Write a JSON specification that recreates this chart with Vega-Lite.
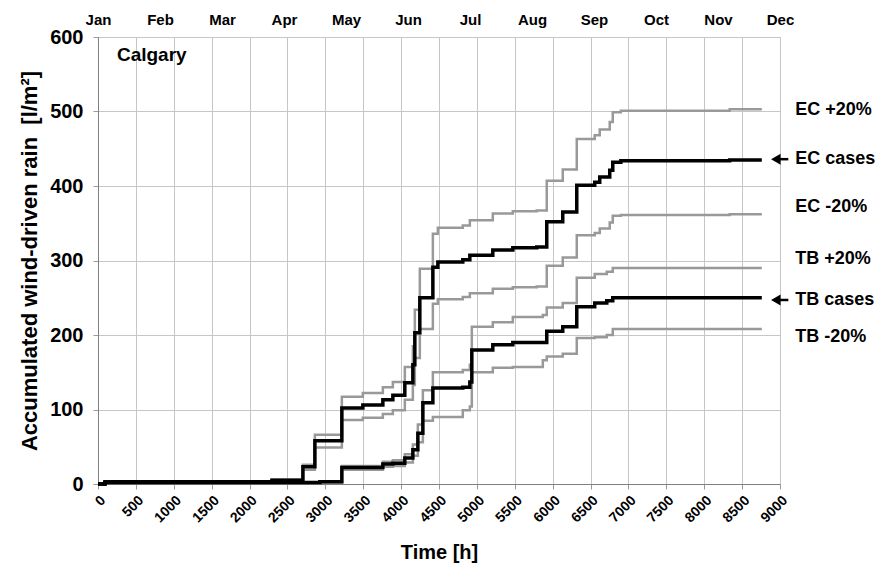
{
  "$schema": "https://vega.github.io/schema/vega-lite/v6.json",
  "width": 682,
  "height": 447,
  "autosize": {"type": "none"},
  "padding": {"left": 98, "top": 37, "right": 100, "bottom": 85},
  "background": "white",
  "config": {
    "font": "Liberation Sans",
    "view": {"stroke": "#9a9a9a"},
    "axis": {"labelColor": "#000", "titleColor": "#000", "gridColor": "#c6c6c6", "tickColor": "#9a9a9a", "domainColor": "#808080"}
  },
  "datasets": {
    "rain": [
      {"s": "EC cases", "k": "case", "t": 0, "v": 0}, {"s": "EC cases", "k": "case", "t": 92, "v": 3}, {"s": "EC cases", "k": "case", "t": 2295, "v": 5}, {"s": "EC cases", "k": "case", "t": 2704, "v": 23}, {"s": "EC cases", "k": "case", "t": 2862, "v": 58}, {"s": "EC cases", "k": "case", "t": 3218, "v": 102}, {"s": "EC cases", "k": "case", "t": 3495, "v": 106}, {"s": "EC cases", "k": "case", "t": 3759, "v": 113}, {"s": "EC cases", "k": "case", "t": 3891, "v": 119}, {"s": "EC cases", "k": "case", "t": 4049, "v": 136}, {"s": "EC cases", "k": "case", "t": 4155, "v": 160}, {"s": "EC cases", "k": "case", "t": 4181, "v": 203}, {"s": "EC cases", "k": "case", "t": 4247, "v": 250}, {"s": "EC cases", "k": "case", "t": 4419, "v": 291}, {"s": "EC cases", "k": "case", "t": 4485, "v": 298}, {"s": "EC cases", "k": "case", "t": 4814, "v": 301}, {"s": "EC cases", "k": "case", "t": 4907, "v": 307}, {"s": "EC cases", "k": "case", "t": 5210, "v": 314}, {"s": "EC cases", "k": "case", "t": 5474, "v": 317}, {"s": "EC cases", "k": "case", "t": 5790, "v": 318}, {"s": "EC cases", "k": "case", "t": 5922, "v": 352}, {"s": "EC cases", "k": "case", "t": 6133, "v": 365}, {"s": "EC cases", "k": "case", "t": 6318, "v": 401}, {"s": "EC cases", "k": "case", "t": 6555, "v": 405}, {"s": "EC cases", "k": "case", "t": 6621, "v": 412}, {"s": "EC cases", "k": "case", "t": 6753, "v": 421}, {"s": "EC cases", "k": "case", "t": 6793, "v": 432}, {"s": "EC cases", "k": "case", "t": 6900, "v": 434}, {"s": "EC cases", "k": "case", "t": 8336, "v": 435}, {"s": "EC cases", "k": "case", "t": 8760, "v": 435},
      {"s": "EC +20%", "k": "var", "t": 0, "v": 0}, {"s": "EC +20%", "k": "var", "t": 92, "v": 3}, {"s": "EC +20%", "k": "var", "t": 2295, "v": 6}, {"s": "EC +20%", "k": "var", "t": 2704, "v": 26}, {"s": "EC +20%", "k": "var", "t": 2862, "v": 66}, {"s": "EC +20%", "k": "var", "t": 3218, "v": 117}, {"s": "EC +20%", "k": "var", "t": 3495, "v": 122}, {"s": "EC +20%", "k": "var", "t": 3759, "v": 130}, {"s": "EC +20%", "k": "var", "t": 3891, "v": 137}, {"s": "EC +20%", "k": "var", "t": 4049, "v": 157}, {"s": "EC +20%", "k": "var", "t": 4155, "v": 185}, {"s": "EC +20%", "k": "var", "t": 4181, "v": 234}, {"s": "EC +20%", "k": "var", "t": 4247, "v": 289}, {"s": "EC +20%", "k": "var", "t": 4419, "v": 336}, {"s": "EC +20%", "k": "var", "t": 4485, "v": 344}, {"s": "EC +20%", "k": "var", "t": 4814, "v": 347}, {"s": "EC +20%", "k": "var", "t": 4907, "v": 354}, {"s": "EC +20%", "k": "var", "t": 5210, "v": 363}, {"s": "EC +20%", "k": "var", "t": 5474, "v": 366}, {"s": "EC +20%", "k": "var", "t": 5790, "v": 367}, {"s": "EC +20%", "k": "var", "t": 5922, "v": 407}, {"s": "EC +20%", "k": "var", "t": 6133, "v": 422}, {"s": "EC +20%", "k": "var", "t": 6318, "v": 463}, {"s": "EC +20%", "k": "var", "t": 6555, "v": 468}, {"s": "EC +20%", "k": "var", "t": 6621, "v": 476}, {"s": "EC +20%", "k": "var", "t": 6753, "v": 486}, {"s": "EC +20%", "k": "var", "t": 6793, "v": 499}, {"s": "EC +20%", "k": "var", "t": 6900, "v": 501}, {"s": "EC +20%", "k": "var", "t": 8336, "v": 503}, {"s": "EC +20%", "k": "var", "t": 8760, "v": 503},
      {"s": "EC -20%", "k": "var", "t": 0, "v": 0}, {"s": "EC -20%", "k": "var", "t": 92, "v": 2}, {"s": "EC -20%", "k": "var", "t": 2295, "v": 4}, {"s": "EC -20%", "k": "var", "t": 2704, "v": 19}, {"s": "EC -20%", "k": "var", "t": 2862, "v": 49}, {"s": "EC -20%", "k": "var", "t": 3218, "v": 86}, {"s": "EC -20%", "k": "var", "t": 3495, "v": 89}, {"s": "EC -20%", "k": "var", "t": 3759, "v": 94}, {"s": "EC -20%", "k": "var", "t": 3891, "v": 99}, {"s": "EC -20%", "k": "var", "t": 4049, "v": 113}, {"s": "EC -20%", "k": "var", "t": 4155, "v": 133}, {"s": "EC -20%", "k": "var", "t": 4181, "v": 169}, {"s": "EC -20%", "k": "var", "t": 4247, "v": 208}, {"s": "EC -20%", "k": "var", "t": 4419, "v": 242}, {"s": "EC -20%", "k": "var", "t": 4485, "v": 248}, {"s": "EC -20%", "k": "var", "t": 4814, "v": 251}, {"s": "EC -20%", "k": "var", "t": 4907, "v": 256}, {"s": "EC -20%", "k": "var", "t": 5210, "v": 262}, {"s": "EC -20%", "k": "var", "t": 5474, "v": 264}, {"s": "EC -20%", "k": "var", "t": 5790, "v": 265}, {"s": "EC -20%", "k": "var", "t": 5922, "v": 293}, {"s": "EC -20%", "k": "var", "t": 6133, "v": 304}, {"s": "EC -20%", "k": "var", "t": 6318, "v": 334}, {"s": "EC -20%", "k": "var", "t": 6555, "v": 337}, {"s": "EC -20%", "k": "var", "t": 6621, "v": 343}, {"s": "EC -20%", "k": "var", "t": 6753, "v": 351}, {"s": "EC -20%", "k": "var", "t": 6793, "v": 360}, {"s": "EC -20%", "k": "var", "t": 6900, "v": 361}, {"s": "EC -20%", "k": "var", "t": 8336, "v": 362}, {"s": "EC -20%", "k": "var", "t": 8760, "v": 362},
      {"s": "TB cases", "k": "case", "t": 0, "v": 0}, {"s": "TB cases", "k": "case", "t": 92, "v": 2}, {"s": "TB cases", "k": "case", "t": 2928, "v": 3}, {"s": "TB cases", "k": "case", "t": 3218, "v": 22}, {"s": "TB cases", "k": "case", "t": 3759, "v": 27}, {"s": "TB cases", "k": "case", "t": 3891, "v": 28}, {"s": "TB cases", "k": "case", "t": 4049, "v": 35}, {"s": "TB cases", "k": "case", "t": 4155, "v": 46}, {"s": "TB cases", "k": "case", "t": 4221, "v": 68}, {"s": "TB cases", "k": "case", "t": 4287, "v": 109}, {"s": "TB cases", "k": "case", "t": 4419, "v": 129}, {"s": "TB cases", "k": "case", "t": 4814, "v": 130}, {"s": "TB cases", "k": "case", "t": 4907, "v": 137}, {"s": "TB cases", "k": "case", "t": 4933, "v": 180}, {"s": "TB cases", "k": "case", "t": 5210, "v": 187}, {"s": "TB cases", "k": "case", "t": 5474, "v": 190}, {"s": "TB cases", "k": "case", "t": 5922, "v": 205}, {"s": "TB cases", "k": "case", "t": 6133, "v": 211}, {"s": "TB cases", "k": "case", "t": 6318, "v": 238}, {"s": "TB cases", "k": "case", "t": 6555, "v": 243}, {"s": "TB cases", "k": "case", "t": 6714, "v": 246}, {"s": "TB cases", "k": "case", "t": 6793, "v": 250}, {"s": "TB cases", "k": "case", "t": 8760, "v": 250},
      {"s": "TB +20%", "k": "var", "t": 0, "v": 0}, {"s": "TB +20%", "k": "var", "t": 92, "v": 2}, {"s": "TB +20%", "k": "var", "t": 2928, "v": 3}, {"s": "TB +20%", "k": "var", "t": 3218, "v": 24}, {"s": "TB +20%", "k": "var", "t": 3759, "v": 30}, {"s": "TB +20%", "k": "var", "t": 3891, "v": 32}, {"s": "TB +20%", "k": "var", "t": 4049, "v": 40}, {"s": "TB +20%", "k": "var", "t": 4155, "v": 53}, {"s": "TB +20%", "k": "var", "t": 4221, "v": 80}, {"s": "TB +20%", "k": "var", "t": 4287, "v": 126}, {"s": "TB +20%", "k": "var", "t": 4419, "v": 150}, {"s": "TB +20%", "k": "var", "t": 4814, "v": 153}, {"s": "TB +20%", "k": "var", "t": 4907, "v": 160}, {"s": "TB +20%", "k": "var", "t": 4933, "v": 211}, {"s": "TB +20%", "k": "var", "t": 5210, "v": 217}, {"s": "TB +20%", "k": "var", "t": 5474, "v": 224}, {"s": "TB +20%", "k": "var", "t": 5870, "v": 227}, {"s": "TB +20%", "k": "var", "t": 5922, "v": 237}, {"s": "TB +20%", "k": "var", "t": 6133, "v": 243}, {"s": "TB +20%", "k": "var", "t": 6318, "v": 277}, {"s": "TB +20%", "k": "var", "t": 6555, "v": 282}, {"s": "TB +20%", "k": "var", "t": 6714, "v": 285}, {"s": "TB +20%", "k": "var", "t": 6793, "v": 290}, {"s": "TB +20%", "k": "var", "t": 8760, "v": 290},
      {"s": "TB -20%", "k": "var", "t": 0, "v": 0}, {"s": "TB -20%", "k": "var", "t": 92, "v": 2}, {"s": "TB -20%", "k": "var", "t": 2928, "v": 2}, {"s": "TB -20%", "k": "var", "t": 3218, "v": 19}, {"s": "TB -20%", "k": "var", "t": 3759, "v": 23}, {"s": "TB -20%", "k": "var", "t": 3891, "v": 24}, {"s": "TB -20%", "k": "var", "t": 4049, "v": 29}, {"s": "TB -20%", "k": "var", "t": 4155, "v": 38}, {"s": "TB -20%", "k": "var", "t": 4221, "v": 56}, {"s": "TB -20%", "k": "var", "t": 4287, "v": 85}, {"s": "TB -20%", "k": "var", "t": 4419, "v": 90}, {"s": "TB -20%", "k": "var", "t": 4814, "v": 99}, {"s": "TB -20%", "k": "var", "t": 4907, "v": 104}, {"s": "TB -20%", "k": "var", "t": 4933, "v": 150}, {"s": "TB -20%", "k": "var", "t": 5210, "v": 156}, {"s": "TB -20%", "k": "var", "t": 5474, "v": 157}, {"s": "TB -20%", "k": "var", "t": 5870, "v": 166}, {"s": "TB -20%", "k": "var", "t": 5922, "v": 171}, {"s": "TB -20%", "k": "var", "t": 6133, "v": 175}, {"s": "TB -20%", "k": "var", "t": 6318, "v": 196}, {"s": "TB -20%", "k": "var", "t": 6555, "v": 197}, {"s": "TB -20%", "k": "var", "t": 6714, "v": 200}, {"s": "TB -20%", "k": "var", "t": 6793, "v": 208}, {"s": "TB -20%", "k": "var", "t": 8760, "v": 208}
    ],
    "labels": [
      {"label": "EC +20%", "value": 502, "k": "var"},
      {"label": "EC cases", "value": 436, "k": "case"},
      {"label": "EC -20%", "value": 372, "k": "var"},
      {"label": "TB +20%", "value": 302, "k": "var"},
      {"label": "TB cases", "value": 247, "k": "case"},
      {"label": "TB -20%", "value": 197, "k": "var"}
    ],
    "months": [
      {"m": "Jan", "i": 0}, {"m": "Feb", "i": 1}, {"m": "Mar", "i": 2}, {"m": "Apr", "i": 3},
      {"m": "May", "i": 4}, {"m": "Jun", "i": 5}, {"m": "Jul", "i": 6}, {"m": "Aug", "i": 7},
      {"m": "Sep", "i": 8}, {"m": "Oct", "i": 9}, {"m": "Nov", "i": 10}, {"m": "Dec", "i": 11}
    ]
  },
  "layer": [
    {
      "layer": [
        {
          "data": {"name": "rain"},
          "transform": [{"filter": "datum.k == 'var'"}],
          "mark": {"type": "line", "interpolate": "step-after", "color": "#999999", "strokeWidth": 2.5},
          "encoding": {
            "x": {
              "field": "t", "type": "quantitative", "title": "Time [h]",
              "scale": {"domain": [0, 9000], "nice": false},
              "axis": {"values": [0, 500, 1000, 1500, 2000, 2500, 3000, 3500, 4000, 4500, 5000, 5500, 6000, 6500, 7000, 7500, 8000, 8500, 9000], "format": "d", "labelAngle": -45, "labelFontSize": 14, "labelFontWeight": "bold", "labelPadding": 4, "labelFlush": false, "labelOverlap": false, "tickSize": 5, "grid": true, "titleFontSize": 20, "titleFontWeight": "bold", "titlePadding": 18}
            },
            "y": {
              "field": "v", "type": "quantitative", "title": "Accumulated wind-driven rain\u00a0 [l/m²]",
              "scale": {"domain": [0, 600], "nice": false},
              "axis": {"values": [0, 100, 200, 300, 400, 500, 600], "format": "d", "labelFontSize": 20, "labelFontWeight": "bold", "labelPadding": 10, "labelFlush": false, "tickSize": 5, "grid": true, "titleFontSize": 22, "titleFontWeight": "bold", "titlePadding": 8}
            },
            "detail": {"field": "s", "type": "nominal"}
          }
        },
        {
          "data": {"name": "rain"},
          "transform": [{"filter": "datum.k == 'case'"}],
          "mark": {"type": "line", "interpolate": "step-after", "color": "#000000", "strokeWidth": 3.5},
          "encoding": {
            "x": {
              "field": "t", "type": "quantitative", "title": "Time [h]",
              "axis": {"values": [0, 500, 1000, 1500, 2000, 2500, 3000, 3500, 4000, 4500, 5000, 5500, 6000, 6500, 7000, 7500, 8000, 8500, 9000], "format": "d", "labelAngle": -45, "labelFontSize": 14, "labelFontWeight": "bold", "labelPadding": 4, "labelFlush": false, "labelOverlap": false, "tickSize": 5, "grid": true, "titleFontSize": 20, "titleFontWeight": "bold", "titlePadding": 18}
            },
            "y": {
              "field": "v", "type": "quantitative", "title": "Accumulated wind-driven rain\u00a0 [l/m²]",
              "axis": {"values": [0, 100, 200, 300, 400, 500, 600], "format": "d", "labelFontSize": 20, "labelFontWeight": "bold", "labelPadding": 10, "labelFlush": false, "tickSize": 5, "grid": true, "titleFontSize": 22, "titleFontWeight": "bold", "titlePadding": 8}
            },
            "detail": {"field": "s", "type": "nominal"}
          }
        },
        {
          "data": {"name": "labels"},
          "mark": {"type": "text", "align": "left", "baseline": "middle", "fontSize": 18, "fontWeight": "bold", "color": "#000"},
          "encoding": {
            "x": {
              "datum": 9200, "type": "quantitative", "title": "Time [h]",
              "axis": {"values": [0, 500, 1000, 1500, 2000, 2500, 3000, 3500, 4000, 4500, 5000, 5500, 6000, 6500, 7000, 7500, 8000, 8500, 9000], "format": "d", "labelAngle": -45, "labelFontSize": 14, "labelFontWeight": "bold", "labelPadding": 4, "labelFlush": false, "labelOverlap": false, "tickSize": 5, "grid": true, "titleFontSize": 20, "titleFontWeight": "bold", "titlePadding": 18}
            },
            "y": {
              "field": "value", "type": "quantitative", "title": "Accumulated wind-driven rain\u00a0 [l/m²]",
              "axis": {"values": [0, 100, 200, 300, 400, 500, 600], "format": "d", "labelFontSize": 20, "labelFontWeight": "bold", "labelPadding": 10, "labelFlush": false, "tickSize": 5, "grid": true, "titleFontSize": 22, "titleFontWeight": "bold", "titlePadding": 8}
            },
            "text": {"field": "label"}
          }
        },
        {
          "data": {"name": "labels"},
          "transform": [{"filter": "datum.k == 'case'"}],
          "mark": {"type": "rule", "color": "#000", "strokeWidth": 2.5},
          "encoding": {
            "x": {
              "datum": 8950, "type": "quantitative", "title": "Time [h]",
              "axis": {"values": [0, 500, 1000, 1500, 2000, 2500, 3000, 3500, 4000, 4500, 5000, 5500, 6000, 6500, 7000, 7500, 8000, 8500, 9000], "format": "d", "labelAngle": -45, "labelFontSize": 14, "labelFontWeight": "bold", "labelPadding": 4, "labelFlush": false, "labelOverlap": false, "tickSize": 5, "grid": true, "titleFontSize": 20, "titleFontWeight": "bold", "titlePadding": 18}
            },
            "x2": {"datum": 9110},
            "y": {
              "field": "value", "type": "quantitative", "title": "Accumulated wind-driven rain\u00a0 [l/m²]",
              "axis": {"values": [0, 100, 200, 300, 400, 500, 600], "format": "d", "labelFontSize": 20, "labelFontWeight": "bold", "labelPadding": 10, "labelFlush": false, "tickSize": 5, "grid": true, "titleFontSize": 22, "titleFontWeight": "bold", "titlePadding": 8}
            }
          }
        },
        {
          "data": {"name": "labels"},
          "transform": [{"filter": "datum.k == 'case'"}],
          "mark": {"type": "point", "shape": "triangle-left", "filled": true, "color": "#000", "opacity": 1, "size": 120},
          "encoding": {
            "x": {
              "datum": 8945, "type": "quantitative", "title": "Time [h]",
              "axis": {"values": [0, 500, 1000, 1500, 2000, 2500, 3000, 3500, 4000, 4500, 5000, 5500, 6000, 6500, 7000, 7500, 8000, 8500, 9000], "format": "d", "labelAngle": -45, "labelFontSize": 14, "labelFontWeight": "bold", "labelPadding": 4, "labelFlush": false, "labelOverlap": false, "tickSize": 5, "grid": true, "titleFontSize": 20, "titleFontWeight": "bold", "titlePadding": 18}
            },
            "y": {
              "field": "value", "type": "quantitative", "title": "Accumulated wind-driven rain\u00a0 [l/m²]",
              "axis": {"values": [0, 100, 200, 300, 400, 500, 600], "format": "d", "labelFontSize": 20, "labelFontWeight": "bold", "labelPadding": 10, "labelFlush": false, "tickSize": 5, "grid": true, "titleFontSize": 22, "titleFontWeight": "bold", "titlePadding": 8}
            }
          }
        },
        {
          "data": {"values": [{"name": "Calgary"}]},
          "mark": {"type": "text", "align": "left", "baseline": "middle", "fontSize": 19, "fontWeight": "bold", "color": "#000"},
          "encoding": {
            "x": {
              "datum": 250, "type": "quantitative", "title": "Time [h]",
              "axis": {"values": [0, 500, 1000, 1500, 2000, 2500, 3000, 3500, 4000, 4500, 5000, 5500, 6000, 6500, 7000, 7500, 8000, 8500, 9000], "format": "d", "labelAngle": -45, "labelFontSize": 14, "labelFontWeight": "bold", "labelPadding": 4, "labelFlush": false, "labelOverlap": false, "tickSize": 5, "grid": true, "titleFontSize": 20, "titleFontWeight": "bold", "titlePadding": 18}
            },
            "y": {
              "datum": 576, "type": "quantitative", "title": "Accumulated wind-driven rain\u00a0 [l/m²]",
              "axis": {"values": [0, 100, 200, 300, 400, 500, 600], "format": "d", "labelFontSize": 20, "labelFontWeight": "bold", "labelPadding": 10, "labelFlush": false, "tickSize": 5, "grid": true, "titleFontSize": 22, "titleFontWeight": "bold", "titlePadding": 8}
            },
            "text": {"field": "name"}
          }
        }
      ]
    },
    {
      "data": {"name": "months"},
      "mark": {"type": "point", "opacity": 0},
      "encoding": {
        "x": {
          "field": "i", "type": "quantitative",
          "scale": {"domain": [0, 11], "nice": false},
          "axis": {
            "orient": "top",
            "values": [0, 1, 2, 3, 4, 5, 6, 7, 8, 9, 10, 11],
            "labelExpr": "['Jan','Feb','Mar','Apr','May','Jun','Jul','Aug','Sep','Oct','Nov','Dec'][datum.value]",
            "grid": false, "ticks": false, "domain": false, "title": null,
            "labelFontSize": 15, "labelFontWeight": "bold", "labelPadding": 10, "labelFlush": false, "labelOverlap": false
          }
        }
      }
    }
  ],
  "resolve": {"scale": {"x": "independent"}, "axis": {"x": "independent"}}
}
